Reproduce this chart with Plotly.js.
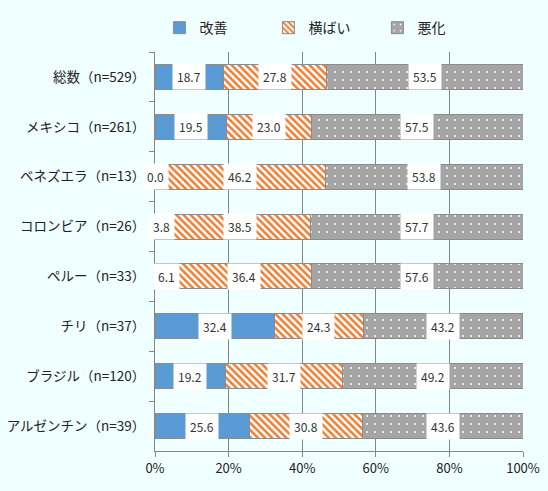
<!DOCTYPE html>
<html>
<head>
<meta charset="utf-8">
<script src="https://cdn.plot.ly/plotly-3.0.1.min.js"></script>
<style>
  html, body { margin: 0; padding: 0; background: #f0ffff; }
  #chart { width: 548px; height: 491px; }
</style>
</head>
<body>
<div id="chart"></div>
<script>
/* data */
var categories = ['総数（n=529）', 'メキシコ（n=261）', 'ベネズエラ（n=13）', 'コロンビア（n=26）',
                  'ペルー（n=33）', 'チリ（n=37）', 'ブラジル（n=120）', 'アルゼンチン（n=39）'];
var improved = [18.7, 19.5, 0.0, 3.8, 6.1, 32.4, 19.2, 25.6];
var flat     = [27.8, 23.0, 46.2, 38.5, 36.4, 24.3, 31.7, 30.8];
var worse    = [53.5, 57.5, 53.8, 57.7, 57.6, 43.2, 49.2, 43.6];
var seriesNames = ['改善', '横ばい', '悪化'];
var tickVals = [0, 20, 40, 60, 80, 100];
var tickText = ['0%', '20%', '40%', '60%', '80%', '100%'];

var font = '"Noto Sans CJK JP", "Noto Sans", sans-serif';
var lineGray = '#868686';
var edge = { color: '#8c8c8c', width: 1 };

var traces = [
  {
    name: seriesNames[0], type: 'bar', orientation: 'h',
    y: categories, x: improved,
    marker: { color: '#5b9bd5', line: edge }
  },
  {
    name: seriesNames[1], type: 'bar', orientation: 'h',
    y: categories, x: flat,
    marker: {
      color: '#ffffff', line: edge,
      pattern: { shape: '\\', fgcolor: '#ed7d31', bgcolor: '#ffffff', size: 5, solidity: 0.5 }
    }
  },
  {
    name: seriesNames[2], type: 'bar', orientation: 'h',
    y: categories, x: worse,
    marker: {
      color: '#a5a5a5', line: edge,
      pattern: { shape: '.', fgcolor: '#ffffff', bgcolor: '#a5a5a5', size: 8, solidity: 0.05 }
    }
  }
];

// value labels in white boxes, centred on each segment
var annotations = [];
var allSeries = [improved, flat, worse];
categories.forEach(function (cat, i) {
  var start = 0;
  allSeries.forEach(function (s) {
    annotations.push({
      x: start + s[i] / 2, y: cat, xref: 'x', yref: 'y',
      text: s[i].toFixed(1), showarrow: false,
      bgcolor: '#ffffff', borderpad: 4,
      font: { family: font, size: 12, color: '#333333' }
    });
    start += s[i];
  });
});

var layout = {
  width: 548, height: 491,
  paper_bgcolor: '#f0ffff', plot_bgcolor: '#f0ffff',
  barmode: 'stack', bargap: 0.5,
  margin: { l: 155, r: 25, t: 48, b: 40 },
  font: { family: font, size: 13, color: '#222222' },
  showlegend: true,
  legend: {
    orientation: 'h', traceorder: 'normal',
    x: 0.012, xanchor: 'left',
    y: 1.06, yanchor: 'middle',
    entrywidth: 64, entrywidthmode: 'pixels',
    font: { family: font, size: 14, color: '#222222' },
    bgcolor: 'rgba(0,0,0,0)'
  },
  xaxis: {
    range: [0, 100], tickmode: 'array', tickvals: tickVals, ticktext: tickText,
    showgrid: true, gridcolor: lineGray, gridwidth: 1,
    showline: true, linecolor: lineGray, linewidth: 1, zeroline: false,
    ticks: 'outside', ticklen: 5, tickcolor: lineGray, tickwidth: 1,
    tickfont: { family: font, size: 13, color: '#222222' }
  },
  yaxis: {
    type: 'category', autorange: 'reversed',
    showgrid: false, showline: true, linecolor: lineGray, linewidth: 1,
    ticks: 'outside', tickson: 'boundaries', ticklen: 5, tickcolor: lineGray, tickwidth: 1,
    ticklabelstandoff: 6,
    tickfont: { family: font, size: 13.5, color: '#222222' }
  },
  annotations: annotations
};

Plotly.newPlot('chart', traces, layout, { displayModeBar: false });
</script>
</body>
</html>
